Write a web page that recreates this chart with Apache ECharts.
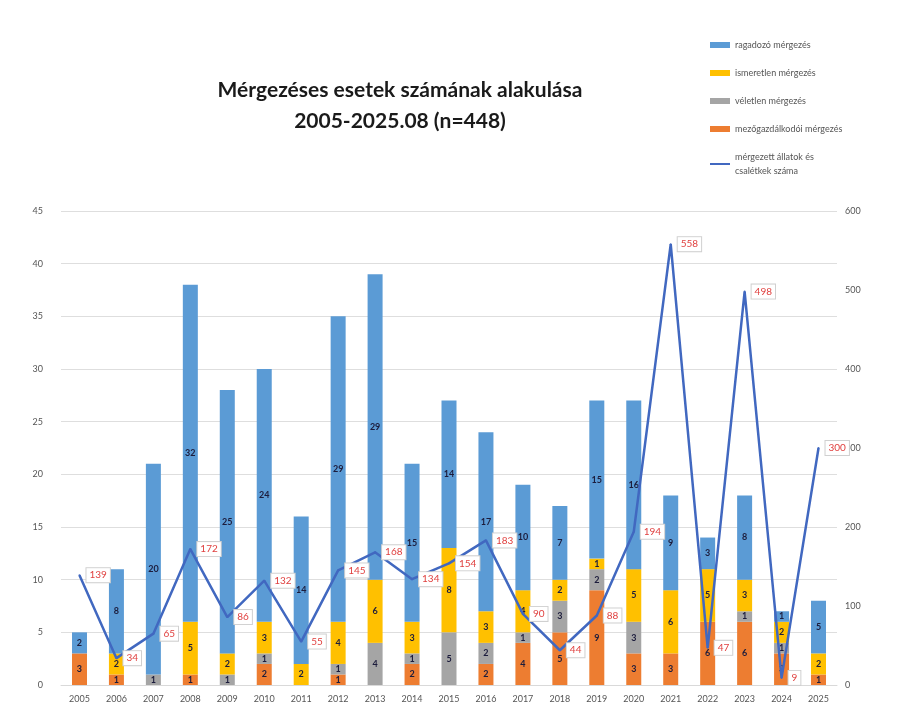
<!DOCTYPE html>
<html>
<head>
<meta charset="utf-8">
<script src="https://cdn.jsdelivr.net/npm/echarts@6/dist/echarts.min.js"></script>
<style>
  html, body { margin: 0; padding: 0; background: #fff; }
  #chart { width: 899px; height: 724px; }
</style>
</head>
<body>
<div id="chart"></div>
<script>
const years = ['2005','2006','2007','2008','2009','2010','2011','2012','2013','2014','2015',
               '2016','2017','2018','2019','2020','2021','2022','2023','2024','2025'];
// stacked from the bottom up
const mezogazdasagi = [3,1,0,1,0,2,0,1,0,2,0,2,4,5,9,3,3,6,6,3,1];
const veletlen      = [0,0,1,0,1,1,0,1,4,1,5,2,1,3,2,3,0,0,1,1,0];
const ismeretlen    = [0,2,0,5,2,3,2,4,6,3,8,3,4,2,1,5,6,5,3,2,2];
const ragadozo      = [2,8,20,32,25,24,14,29,29,15,14,17,10,7,15,16,9,3,8,1,5];
// mérgezett állatok és csalétkek száma (right axis)
const allatok = [139,34,65,172,86,132,55,145,168,134,154,183,90,44,88,194,558,47,498,9,300];

const leftTicks = { min: 0, max: 45, interval: 5 };
const rightTicks = { min: 0, max: 600, interval: 100 };

const segLabel = {
    show: true,
    position: 'inside',
    color: '#1c1c3c',
    fontWeight: 'bold',
    fontSize: 9,
    formatter: function (p) { return p.value ? p.value : ''; }
};

function barSeries(name, data, color) {
    return {
        name: name,
        type: 'bar',
        stack: 'total',
        barWidth: 15,
        data: data,
        itemStyle: { color: color },
        label: segLabel
    };
}

const chart = echarts.init(document.getElementById('chart'));
chart.setOption({
    animation: false,
    textStyle: { fontFamily: 'Lato, "Open Sans", sans-serif' },
    title: {
        text: 'Mérgezéses esetek számának alakulása\n2005-2025.08 (n=448)',
        left: 395,
        top: 70,
        textAlign: 'center',
        textStyle: { fontSize: 21, fontWeight: 'bold', color: '#1a1a1a', lineHeight: 31 }
    },
    legend: {
        orient: 'vertical',
        left: 705,
        top: 33,
        itemGap: 14,
        itemWidth: 20,
        itemHeight: 6,
        textStyle: { fontSize: 9, color: '#555', lineHeight: 14 },
        data: [
            { name: 'ragadozó mérgezés', icon: 'rect' },
            { name: 'ismeretlen mérgezés', icon: 'rect' },
            { name: 'véletlen mérgezés', icon: 'rect' },
            { name: 'mezőgazdálkodói mérgezés', icon: 'rect' },
            { name: 'mérgezett állatok és csalétkek száma', icon: 'path://M0,0 L20,0 L20,2 L0,2 Z' }
        ],
        formatter: function (n) {
            return n === 'mérgezett állatok és csalétkek száma' ? 'mérgezett állatok és\ncsalétkek száma' : n;
        }
    },
    grid: { left: 61, right: 62, top: 211, bottom: 39 },
    xAxis: {
        type: 'category',
        data: years,
        axisTick: { show: false },
        axisLine: { lineStyle: { color: '#d9d9d9' } },
        axisLabel: { color: '#555', fontSize: 9, margin: 10 }
    },
    yAxis: [
        {
            type: 'value',
            min: leftTicks.min, max: leftTicks.max, interval: leftTicks.interval,
            axisLabel: { color: '#555', fontSize: 9, margin: 18 },
            splitLine: { lineStyle: { color: '#dedede' } }
        },
        {
            type: 'value',
            min: rightTicks.min, max: rightTicks.max, interval: rightTicks.interval,
            axisLabel: { color: '#555', fontSize: 9, margin: 8 },
            splitLine: { show: false }
        }
    ],
    series: [
        barSeries('mezőgazdálkodói mérgezés', mezogazdasagi, '#ED7D31'),
        barSeries('véletlen mérgezés', veletlen, '#A5A5A5'),
        barSeries('ismeretlen mérgezés', ismeretlen, '#FFC000'),
        barSeries('ragadozó mérgezés', ragadozo, '#5B9BD5'),
        {
            name: 'mérgezett állatok és csalétkek száma',
            type: 'line',
            yAxisIndex: 1,
            data: allatok,
            z: 5,
            symbol: 'circle',
            symbolSize: 2,
            lineStyle: { color: '#4168c0', width: 2.5 },
            itemStyle: { color: '#4168c0' },
            label: {
                show: true,
                position: 'right',
                distance: 6,
                color: '#e0403f',
                fontSize: 10,
                backgroundColor: '#fff',
                borderColor: '#d0d0d0',
                borderWidth: 1,
                padding: [2, 3]
            }
        }
    ]
});
</script>
</body>
</html>
